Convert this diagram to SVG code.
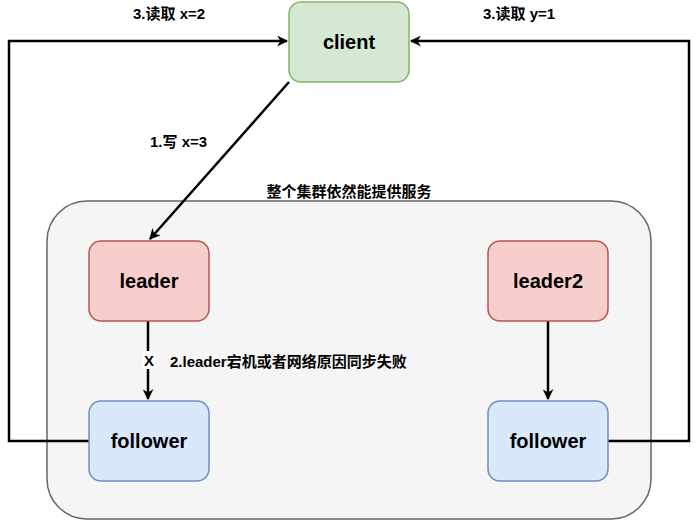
<svg xmlns="http://www.w3.org/2000/svg" width="698" height="522" viewBox="0 0 698 522">
<defs>
<style>
.lbl{font-family:"Liberation Sans","Noto Sans CJK SC",Arial,sans-serif;font-weight:bold;font-size:15px;fill:#000}
.nl{font-family:"Liberation Sans","Noto Sans CJK SC",Arial,sans-serif;font-weight:bold;font-size:20px;fill:#000;text-anchor:middle}
.edge{fill:none;stroke:#000;stroke-width:2.5;stroke-linejoin:miter}
</style>
<marker id="arr" viewBox="0 0 10 10" refX="9" refY="5" markerWidth="4.4" markerHeight="4.4" orient="auto" markerUnits="strokeWidth">
<path d="M0,0 L10,5 L0,10 L3,5 Z" fill="#000"/>
</marker>
</defs>
<rect width="698" height="522" fill="#fff"/>
<g id="cluster">
<rect x="47" y="201" width="604" height="318" rx="40" fill="#f5f5f5" stroke="#666666" stroke-width="1.5"/>
<text class="lbl" x="349" y="197" text-anchor="middle">整个集群依然能提供服务</text>
</g>
<g id="connectors">
<polyline class="edge" points="89,441 9,441 9,41 287,41" marker-end="url(#arr)"/>
<polyline class="edge" points="608,441 689,441 689,41 411,41" marker-end="url(#arr)"/>
<line class="edge" x1="289" y1="82" x2="150" y2="239" marker-end="url(#arr)"/>
<line class="edge" x1="148" y1="321" x2="148" y2="399" marker-end="url(#arr)"/>
<line class="edge" x1="548" y1="321" x2="548" y2="399" marker-end="url(#arr)"/>
<rect x="142" y="351" width="14" height="18" fill="#fff"/>
<text class="lbl" x="149" y="366" text-anchor="middle">X</text>
<text class="lbl" x="170" y="367">2.leader宕机或者网络原因同步失败</text>
<text class="lbl" x="133" y="19">3.读取 x=2</text>
<text class="lbl" x="483" y="19">3.读取 y=1</text>
<text class="lbl" x="150" y="147">1.写 x=3</text>
</g>
<g id="client">
<rect x="289" y="2" width="120" height="80" rx="12" fill="#d5e8d4" stroke="#82b366" stroke-width="1.5"/>
<text class="nl" x="349" y="49">client</text>
</g>
<g id="leader">
<rect x="89" y="241" width="120" height="80" rx="12" fill="#f8cecc" stroke="#b85450" stroke-width="1.5"/>
<text class="nl" x="149" y="288">leader</text>
</g>
<g id="leader2">
<rect x="488" y="241" width="120" height="80" rx="12" fill="#f8cecc" stroke="#b85450" stroke-width="1.5"/>
<text class="nl" x="548" y="288">leader2</text>
</g>
<g id="follower1">
<rect x="89" y="401" width="120" height="80" rx="12" fill="#dae8fc" stroke="#6c8ebf" stroke-width="1.5"/>
<text class="nl" x="149" y="448">follower</text>
</g>
<g id="follower2">
<rect x="488" y="401" width="120" height="80" rx="12" fill="#dae8fc" stroke="#6c8ebf" stroke-width="1.5"/>
<text class="nl" x="548" y="448">follower</text>
</g>
</svg>
